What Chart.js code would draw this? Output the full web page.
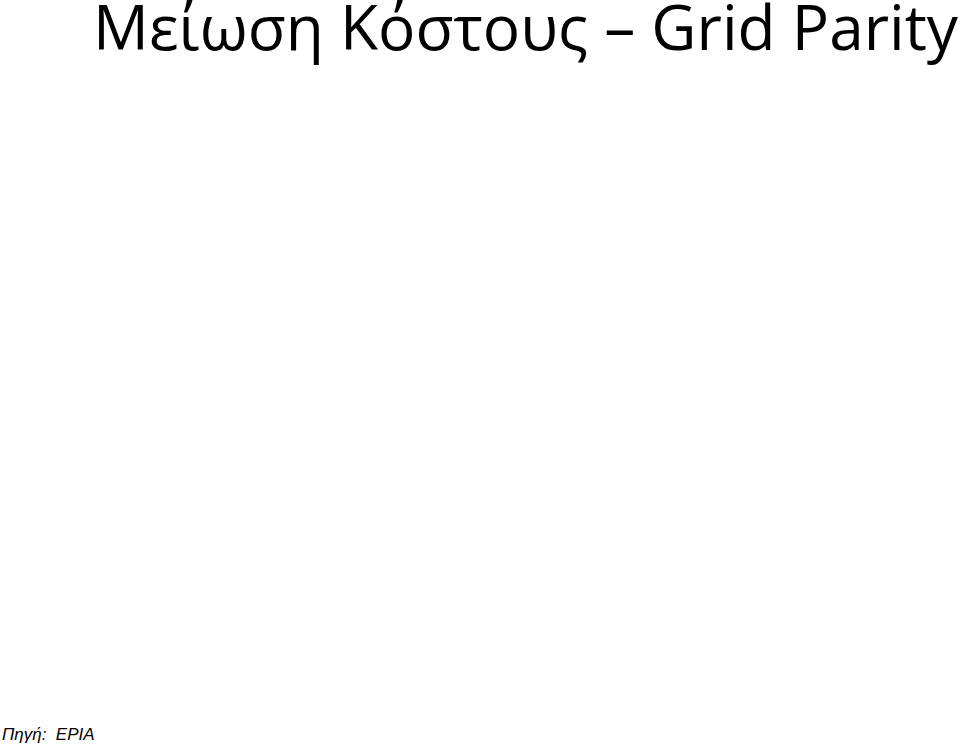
<!DOCTYPE html>
<html>
<head>
<meta charset="utf-8">
<script src="https://cdn.jsdelivr.net/npm/chart.js@4/dist/chart.umd.min.js"></script>
<style>
  html, body { margin: 0; padding: 0; background: #fff; width: 960px; height: 746px; overflow: hidden; }
  #title {
    position: absolute; left: 93px; top: -16px; margin: 0;
    font-family: "Open Sans", sans-serif; font-weight: 400; font-size: 62px;
    color: #000; white-space: nowrap; transform-origin: left top;
  }
  #chartBox { position: absolute; left: 40px; top: 90px; width: 880px; height: 600px; }
  #source {
    position: absolute; left: 2px; top: 725px; margin: 0;
    font-family: "Liberation Sans", Arial, sans-serif; font-style: italic; font-size: 17px; color: #000;
  }
</style>
</head>
<body>
<h1 id="title">Μείωση Κόστους – Grid Parity</h1>
<div id="chartBox"><canvas id="costChart"></canvas></div>
<p id="source">Πηγή:&nbsp; EPIA</p>
<script>
// The chart area of the slide is empty: no categories or values are shown
const years = [];
const pvCost = [];
const gridPrice = [];

// squeeze the title to the width it has in the slide
const title = document.getElementById('title');
const w = title.getBoundingClientRect().width;
title.style.transform = 'scaleX(' + (865 / w) + ')';

const costChart = new Chart(document.getElementById('costChart'), {
    type: 'line',
    data: {
        labels: years,
        datasets: [{
            label: 'PV',
            data: pvCost,
            borderColor: '#000'
        }, {
            label: 'Grid',
            data: gridPrice,
            borderColor: '#000'
        }]
    },
    options: {
        responsive: true,
        maintainAspectRatio: false,
        animation: false,
        plugins: {
            legend: { display: false },
            tooltip: { enabled: false }
        },
        scales: {
            x: { display: false },
            y: { display: false }
        }
    }
});
</script>
</body>
</html>
